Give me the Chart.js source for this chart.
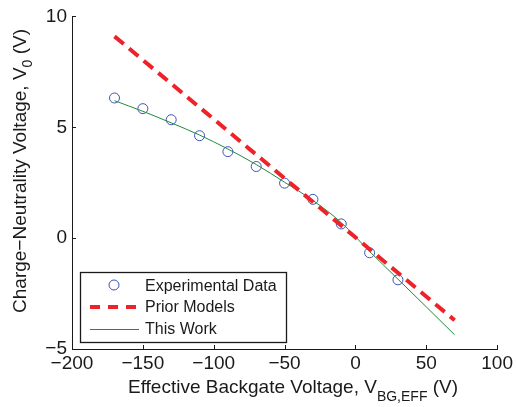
<!DOCTYPE html>
<html>
<head>
<meta charset="utf-8">
<script src="https://cdn.jsdelivr.net/npm/chart.js@4"></script>
<style>
  html, body { margin: 0; padding: 0; background: #fff; }
  #wrap { width: 516px; height: 407px; }
</style>
</head>
<body>
<div id="wrap"><canvas id="chart" width="516" height="407"></canvas></div>
<script>
// data
const expX = [-170, -150, -130, -110, -90, -70, -50, -30, -10, 10, 30]
const expY = [6.32, 5.84, 5.34, 4.62, 3.9, 3.23, 2.48, 1.75, 0.64, -0.66, -1.88]

const priorX = [-170, 70]
const priorY = [9.1, -3.7]

const workX = [-170, -150, -130, -110, -90, -70, -50, -30, -10, 10, 30, 50, 70]
const workY = [6.2, 5.72, 5.2, 4.65, 4.02, 3.32, 2.52, 1.7, 0.7, -0.6, -1.85, -3.1, -4.36]

const xTicks = [-200, -150, -100, -50, 0, 50, 100]
const yTicks = [-5, 0, 5, 10]

const FONT = "Liberation Sans, Arial, Helvetica, sans-serif"
const BLUE = "#3a55b5"
const RED = "#ee2229"
const GREEN = "#1f8a3c"
const INK = "#1a1a1a"

const toPts = (xs, ys) => xs.map((x, i) => ({ x: x, y: ys[i] }))
const fmt = (v) => String(v).replace("-", "\u2212")

// inward tick marks, axis titles with subscripts, boxed legend
const decorations = {
  id: "decorations",
  afterDraw(chart) {
    const ctx = chart.ctx
    const area = chart.chartArea
    const xs = chart.scales.x
    const ys = chart.scales.y
    ctx.save()
    ctx.strokeStyle = INK
    ctx.lineWidth = 1
    ctx.beginPath()
    xTicks.forEach((t) => {
      const px = Math.round(xs.getPixelForValue(t)) + 0.5
      ctx.moveTo(px, area.bottom)
      ctx.lineTo(px, area.bottom - 4)
    })
    yTicks.forEach((t) => {
      const py = Math.round(ys.getPixelForValue(t)) + 0.5
      ctx.moveTo(area.left, py)
      ctx.lineTo(area.left + 4, py)
    })
    ctx.stroke()

    // x title
    ctx.fillStyle = INK
    ctx.textBaseline = "alphabetic"
    const big = "19px " + FONT
    const small = "14px " + FONT
    ctx.font = big
    const a = "Effective Backgate Voltage, V"
    const c = " (V)"
    const wa = ctx.measureText(a).width
    const wc = ctx.measureText(c).width
    ctx.font = small
    const b = "BG,EFF"
    const wb = ctx.measureText(b).width
    const x0 = 293 - (wa + wb + wc) / 2
    const yb = 393
    ctx.font = big
    ctx.fillText(a, x0, yb)
    ctx.font = small
    ctx.fillText(b, x0 + wa, yb + 8)
    ctx.font = big
    ctx.fillText(c, x0 + wa + wb, yb)

    // y title (rotated)
    ctx.save()
    ctx.translate(26, 171)
    ctx.rotate(-Math.PI / 2)
    const ya = "Charge\u2212Neutrality Voltage, V"
    const yc = " (V)"
    ctx.font = big
    const wya = ctx.measureText(ya).width
    const wyc = ctx.measureText(yc).width
    ctx.font = small
    const wyb = ctx.measureText("0").width
    const s = -(wya + wyb + wyc) / 2
    ctx.font = big
    ctx.fillText(ya, s, 0)
    ctx.font = small
    ctx.fillText("0", s + wya, 6)
    ctx.font = big
    ctx.fillText(yc, s + wya + wyb, 0)
    ctx.restore()

    // legend box
    ctx.fillStyle = "#fff"
    ctx.fillRect(80, 272, 206, 70)
    ctx.strokeStyle = INK
    ctx.lineWidth = 1.3
    ctx.strokeRect(80.5, 272.5, 206, 70)
    ctx.strokeStyle = BLUE
    ctx.lineWidth = 1
    ctx.beginPath()
    ctx.arc(114, 285, 5, 0, Math.PI * 2)
    ctx.stroke()
    ctx.strokeStyle = RED
    ctx.lineWidth = 4
    ctx.setLineDash([10, 8])
    ctx.beginPath()
    ctx.moveTo(90, 307)
    ctx.lineTo(139, 307)
    ctx.stroke()
    ctx.setLineDash([])
    ctx.strokeStyle = GREEN
    ctx.lineWidth = 1
    ctx.beginPath()
    ctx.moveTo(90, 329.5)
    ctx.lineTo(139, 329.5)
    ctx.stroke()
    ctx.fillStyle = INK
    ctx.font = "16px " + FONT
    ctx.textBaseline = "middle"
    ctx.fillText("Experimental Data", 145, 287)
    ctx.fillText("Prior Models", 145, 308)
    ctx.fillText("This Work", 145, 330)
    ctx.restore()
  },
}

new Chart(document.getElementById("chart").getContext("2d"), {
  type: "scatter",
  data: {
    datasets: [
      {
        label: "Prior Models",
        data: toPts(priorX, priorY),
        showLine: true,
        borderColor: RED,
        borderWidth: 4,
        borderDash: [12, 7],
        pointRadius: 0,
        fill: false,
      },
      {
        label: "This Work",
        data: toPts(workX, workY),
        showLine: true,
        borderColor: GREEN,
        borderWidth: 1,
        tension: 0.4,
        cubicInterpolationMode: "monotone",
        pointRadius: 0,
        fill: false,
      },
      {
        label: "Experimental Data",
        data: toPts(expX, expY),
        showLine: false,
        pointStyle: "circle",
        pointRadius: 5,
        pointBorderWidth: 1,
        pointBorderColor: BLUE,
        pointBackgroundColor: "rgba(0,0,0,0)",
      },
    ],
  },
  options: {
    responsive: false,
    animation: false,
    layout: { padding: { top: 14, right: 17, left: 0, bottom: 0 } },
    plugins: {
      legend: { display: false },
      tooltip: { enabled: false },
    },
    scales: {
      x: {
        type: "linear",
        min: -200,
        max: 100,
        afterFit: (s) => { s.height = 58 },
        afterBuildTicks: (s) => { s.ticks = xTicks.map((v) => ({ value: v })) },
        grid: { display: false, drawTicks: false },
        border: { display: true, color: INK, width: 1 },
        ticks: {
          color: INK,
          font: { family: FONT, size: 19 },
          padding: 3,
          maxRotation: 0,
          callback: (v) => fmt(v),
        },
      },
      y: {
        type: "linear",
        min: -5,
        max: 10,
        afterFit: (s) => { s.width = 72 },
        afterBuildTicks: (s) => { s.ticks = yTicks.map((v) => ({ value: v })) },
        grid: { display: false, drawTicks: false },
        border: { display: true, color: INK, width: 1 },
        ticks: {
          color: INK,
          font: { family: FONT, size: 19 },
          padding: 5,
          callback: (v) => fmt(v),
        },
      },
    },
  },
  plugins: [decorations],
})
</script>
</body>
</html>
